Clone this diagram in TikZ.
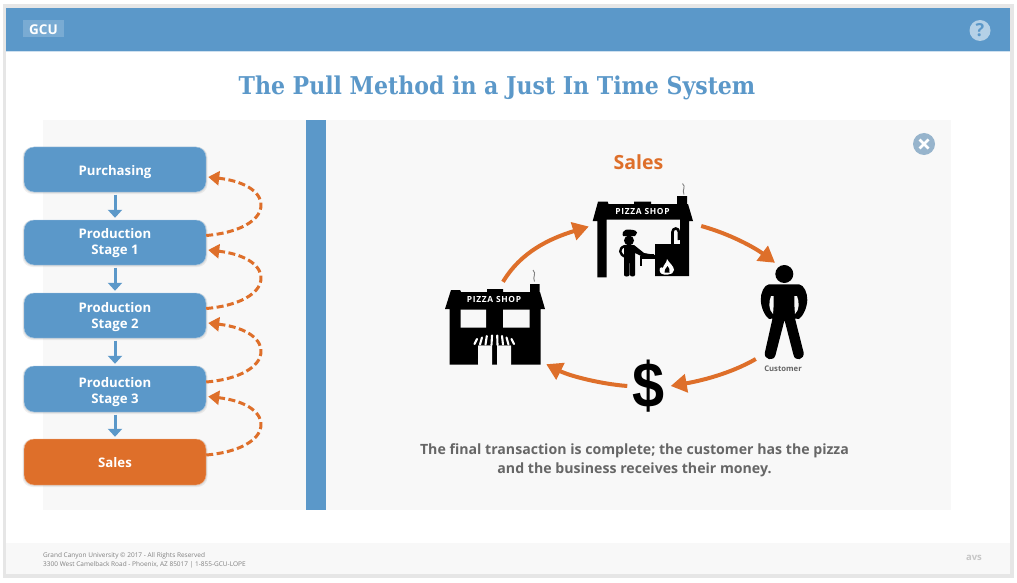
\documentclass[tikz,border=0pt]{standalone}
\usepackage{fontspec}
\setmainfont{Open Sans}
\newfontfamily\titlefont{DejaVu Serif Condensed}
\newfontfamily\dollarfont{Liberation Sans}
\usetikzlibrary{arrows.meta}
\definecolor{hdrblue}{HTML}{5B98C9}
\definecolor{orng}{HTML}{DE6F2A}
\definecolor{panel}{HTML}{F8F8F8}
\definecolor{frame}{HTML}{E6E6E6}
\definecolor{txtgray}{HTML}{666666}
\newcommand\lblstrut[1]{\rule{0pt}{#1}}
\tikzset{
  flowbox/.style={rounded corners=10pt,minimum width=182pt,minimum height=45pt,inner sep=0pt,fill=hdrblue,draw=white!45!hdrblue,line width=.4pt,
     text=white,font=\bfseries\fontsize{13.2}{16}\selectfont,align=center},
  shadowbox/.style={rounded corners=10pt,fill=black,opacity=.06},
  downarrow/.style={draw=hdrblue,line width=3pt,-{Triangle[length=8pt,width=14pt]},shorten <=2.5pt,shorten >=2pt},
  pull/.style={draw=orng,line width=3pt,dash pattern=on 7pt off 3.5pt,-{Triangle[length=11pt,width=14pt]}},
  cycle/.style={draw=orng,line width=4pt,-{Triangle[length=16pt,width=18pt]}},
  iconbox/.style={inner sep=0pt},
  icon/.style={fill=black,draw=none},
  gap/.style={fill=panel,draw=none},
  smoke/.style={draw=gray,line width=.9pt},
  shopname/.style={text=white,font=\bfseries\fontsize{8.4}{8.4}\selectfont\addfontfeatures{LetterSpace=8},inner sep=0pt},
}
\begin{document}
\begin{tikzpicture}[x=1pt,y=-1pt]
\useasboundingbox (0,0) rectangle (1017,583);
\fill[white] (0,0) rectangle (1017,583);
\fill[frame] (3,4) rectangle (1014,578);
\fill[white] (6,8) rectangle (1010,574);
\fill[hdrblue] (6,8) rectangle (1010,51);
\fill[panel] (6,543) rectangle (1010,574);
\fill[white!70!hdrblue] (6,51) rectangle (1010,52);
% header
\fill[white!18!hdrblue] (23,20) rectangle (64,37);
\node[text=white,font=\bfseries\fontsize{13.5}{13.5}\selectfont,inner sep=0pt] (logo) at (43.5,29.5) {GCU};
\node[circle,fill=white!55!hdrblue,minimum size=21pt,inner sep=0pt,text=hdrblue,font=\bfseries\fontsize{18}{18}\selectfont] (help) at (980,30.5) {?};
% title
\node[text=hdrblue,font=\titlefont\bfseries\fontsize{24.5}{26}\selectfont,inner sep=0pt] (title) at (497,88) {The Pull Method in a Just In Time System};
% panel
\fill[panel] (43,120) rectangle (951,510);
\fill[hdrblue] (306,120) rectangle (326,510);
\node[circle,fill=white!40!hdrblue!80!gray,minimum size=22pt,inner sep=0pt] (close) at (924,144) {};
\draw[white,line width=2.8pt] (919.5,139.5) -- (928.5,148.5) (928.5,139.5) -- (919.5,148.5);
% flow boxes
\foreach \y/\h in {169.5/45,242.5/45,315.5/45,389/46,462/46} {
  \fill[shadowbox] (22.5,\y-\h/2) rectangle (207.5,\y+\h/2+2);
  \fill[shadowbox] (23.2,\y-\h/2) rectangle (206.8,\y+\h/2+1);
}
\node[flowbox] (b1) at (115,169.5) {\lblstrut{15pt}Purchasing};
\node[flowbox] (b2) at (115,242.5) {\lblstrut{12pt}Production\\Stage 1};
\node[flowbox] (b3) at (115,315.5) {\lblstrut{14pt}Production\\Stage 2};
\node[flowbox,minimum height=46pt] (b4) at (115,389) {\lblstrut{16pt}Production\\Stage 3};
\node[flowbox,minimum height=46pt,fill=orng,draw=white!45!orng] (b5) at (115,462) {\lblstrut{12pt}Sales};
\foreach \a/\b in {b1/b2,b2/b3,b3/b4,b4/b5} \draw[downarrow] (\a) -- (\b);
\foreach \a/\b in {b2/b1,b3/b2,b4/b3,b5/b4}
  \draw[pull] ([yshift=7pt]\a.east) .. controls +(70,-6) and +(70,8) .. ([xshift=2pt,yshift=-7.5pt]\b.east);
% heading
\node[text=orng,font=\bfseries\fontsize{19.5}{19.5}\selectfont,inner sep=0pt] (head) at (638.5,162) {Sales};
% icon anchors
\node[iconbox,minimum width=100pt,minimum height=95pt] (shopA) at (495,317.5) {};
\node[iconbox,minimum width=100pt,minimum height=95pt] (shopB) at (643,230) {};
\node[iconbox,minimum width=48pt,minimum height=108pt] (person) at (784,319) {};
% shop A
\fill[icon] (445,309) -- (451,290) -- (460,290) -- (461,292) -- (487,292) -- (487,289) -- (503,289) -- (503,292) -- (530,292) -- (530,284) -- (539.5,284) -- (539.5,292) -- (540,292) -- (545,309) -- (540.5,309) -- (540.5,364.6) -- (511,364.6) -- (511,345.7) -- (497,345.7) -- (497,364.6) -- (492,364.6) -- (492,345.7) -- (478,345.7) -- (478,364.6) -- (449.5,364.6) -- (449.5,309) -- cycle;
\fill[gap] (460.5,309.5) rectangle (486,327.5) (503,309.5) rectangle (529.5,327.5);
\fill[gap] (478,345.7) rectangle (492,364.6) (497,345.7) rectangle (511,364.6);
\draw[white,line width=2.1pt,line cap=round]
  (474.5,344) -- (477,339) (480,344.5) -- (482,337.5) (485.5,344.5) -- (486.8,336) (491.5,345) -- (492,335.5)
  (497.5,345) -- (497.2,335.5) (503,344.5) -- (502,336) (508.5,344.5) -- (506.5,337.5) (514,344) -- (511.5,339);
\node[shopname] (nameA) at (494,299.5) {PIZZA SHOP};
\draw[smoke] (533,270) .. controls (537,274) and (532,277) .. (534.5,281.5);
% shop B
\fill[icon] (592.7,221) -- (598,201.7) -- (607.7,201.7) -- (608.5,204) -- (634,204) -- (634,201.5) -- (651,201.5) -- (651,204) -- (677,204) -- (677,196) -- (687,196) -- (687,204) -- (688,204) -- (693,221) -- (689,221) -- (689,276) -- (655,276) -- (655,244) -- (680,244) -- (680,219.5) -- (606.7,219.5) -- (606.7,277.3) -- (597.3,277.3) -- (597.3,221) -- cycle;
\draw[black,line width=2.6pt] (672.5,245) -- (672.5,232) arc[start angle=180,end angle=0,x radius=3.2pt,y radius=3.5pt] -- (679,240);
\node[shopname] (nameB) at (642.5,211.5) {PIZZA SHOP};
\draw[smoke] (682.5,183.5) .. controls (686.5,187) and (681.5,190) .. (684,194.5);
% chef
\fill[icon] (623,232) .. controls (624,229) and (627,230) .. (629,229.5) .. controls (632,229.5) and (636,230) .. (637,232.5) .. controls (637,234.5) and (635,235) .. (635,236) -- (623,236) .. controls (623,235) and (622,234) .. (623,232) -- cycle;
\fill[icon] (629,240.5) circle[radius=5pt];
\fill[icon] (624,245) -- (634,245) -- (644,253) -- (655,255) -- (655,258) -- (643,257) -- (635,253) -- (635,275) .. controls (635,277) and (630,277) .. (630,275) -- (630,263) -- (629.5,263) -- (629.5,275) .. controls (629.5,277) and (624,277) .. (624,275) -- cycle;
\draw[black,line width=2.4pt] (625,246) .. controls (618,248) and (619,255) .. (626,257);
\fill[icon] (640,255.5) rectangle (655,258.5);
\draw[black,line width=1.8pt] (641,257) -- (641,266);
\fill[icon] (641,254) rectangle (654,255.5);
% flame
\fill[white] (667,259) .. controls (669,263) and (674,266) .. (674,270) .. controls (674,273) and (671,274.5) .. (668,274.5) -- (664,274.5) .. controls (660,274) and (659,271) .. (660,268) .. controls (661,266) and (662,268) .. (663,268) .. controls (663,265) and (667,263) .. (667,259) -- cycle;
\fill[black] (667.5,266) .. controls (669,268) and (670.5,270) .. (669.5,272.5) -- (664.5,272.5) .. controls (663.5,270.5) and (666,269) .. (667.5,266) -- cycle;
% person
\fill[icon] (784.3,274) circle[radius=9pt];
\fill[icon] (769,284.3) -- (799,284.3) .. controls (804,285) and (807.5,293) .. (807.3,300) .. controls (807,308) and (803,316) .. (799,319) -- (795,318.5) -- (803.5,352) .. controls (805,360) and (795,362) .. (793.5,355) -- (784.5,320) -- (775.5,355) .. controls (774,362) and (763,360) .. (765,352) -- (772.5,318.5) -- (769,319) .. controls (765,316) and (761,308) .. (760.8,300) .. controls (760.5,293) and (764,285) .. (769,284.3) -- cycle;
\fill[gap] (771,296) .. controls (768.5,302) and (768.5,310) .. (773,314) .. controls (773.5,308) and (774,302) .. (773.5,296) -- cycle;
\fill[gap] (797,296) .. controls (799.5,302) and (799.5,310) .. (795,314) .. controls (794.5,308) and (794,302) .. (794.5,296) -- cycle;
\node[text=txtgray,font=\bfseries\fontsize{7.7}{7.7}\selectfont,inner sep=0pt] (cust) at (783,368.7) {Customer};
% dollar
\node[font=\dollarfont\bfseries\fontsize{64}{64}\selectfont,inner sep=0pt] (dollar) at (648.5,386) {\scalebox{.9}[1]{\$}};
% cycle arrows
\draw[cycle] ([xshift=8pt,yshift=-12pt]shopA.north) .. controls +(18,-30) and +(-39,12) .. ([xshift=-4pt,yshift=3.5pt]shopB.west);
\draw[cycle] ([xshift=8pt,yshift=4pt]shopB.east) .. controls +(29,8) and +(-20,-15) .. ([xshift=-9pt,yshift=2pt]person.north);
\draw[cycle] ([xshift=-4pt,yshift=-40pt]person.west) .. controls +(-26,15) and +(29,-5) .. ([xshift=6pt]dollar.east);
\draw[cycle] ([xshift=-5pt]dollar.west) .. controls +(-26,-2) and +(24,12) .. ([xshift=1pt,yshift=1pt]shopA.south east);
% description
\node[text=txtgray,font=\bfseries\fontsize{14.14}{19}\selectfont,align=center,inner sep=0pt] (desc) at (634.5,460.5) {The final transaction is complete; the customer has the pizza\\and the business receives their money.};
% footer
\node[text=gray,font=\fontsize{6.5}{9}\selectfont,align=left,anchor=west,inner sep=0pt] (foot) at (43,560) {Grand Canyon University © 2017 - All Rights Reserved\\3300 West Camelback Road - Phoenix, AZ 85017 | 1-855-GCU-LOPE};
\node[text=black!22,font=\bfseries\fontsize{9.5}{9.5}\selectfont,inner sep=0pt] (avs) at (974,558) {avs};
\end{tikzpicture}
\end{document}
